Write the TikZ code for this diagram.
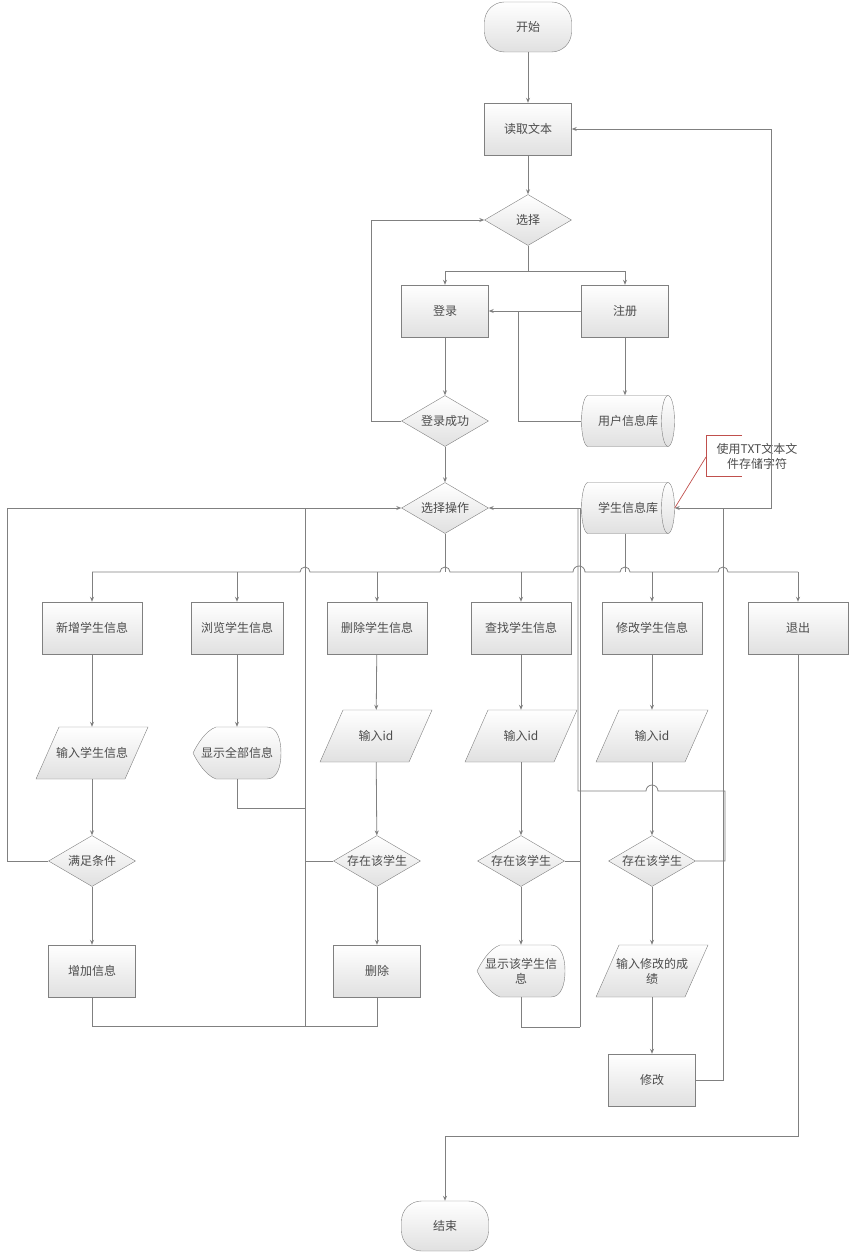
\documentclass[tikz,border=0pt]{standalone}
\usepackage{fontspec}
\setmainfont{Noto Sans CJK SC}
\usetikzlibrary{arrows.meta, shapes.geometric}

% display shape outline, centred at (#1,#2)
\newcommand{\dispbox}[2]{%
  \path[draw=black!50, top color=white, bottom color=black!12, shift={(#1,#2)}]
    (-21,-26) -- (30,-26) .. controls (40,-26) and (44,-14) .. (44,0)
    .. controls (44,14) and (40,26) .. (30,26) -- (-21,26)
    .. controls (-32,22) and (-40,8) .. (-44,0)
    .. controls (-40,-8) and (-32,-22) .. (-21,-26) -- cycle;}
% input/output parallelogram outline, centred at (#1,#2)
\newcommand{\iobox}[2]{%
  \path[draw=black!50, top color=white, bottom color=black!12, shift={(#1,#2)}]
    (-33,-26) -- (56,-26) -- (33,26) -- (-56,26) -- cycle;}
% lying data store outline, centred at (#1,#2)
\newcommand{\dbbox}[2]{%
  \path[draw=black!50, top color=white, bottom color=black!12, shift={(#1,#2)}]
    (-40,-25.5) -- (40,-25.5) arc[start angle=-90, end angle=90, x radius=6.5, y radius=25.5]
    -- (-40,25.5) arc[start angle=90, end angle=270, x radius=6.5, y radius=25.5] -- cycle;
  \draw[black!50, shift={(#1,#2)}]
    (40,-25.5) arc[start angle=-90, end angle=-270, x radius=6.5, y radius=25.5];}

\begin{document}
\begin{tikzpicture}[x=1pt, y=-1pt,
   txt/.style={text=black!70, font=\fontsize{12}{15}\selectfont, align=center},
   base/.style={txt, draw=black!50, top color=white, bottom color=black!12, inner sep=0pt},
   proc/.style={base, rectangle, minimum width=87pt, minimum height=52pt},
   wide/.style={proc, minimum width=100pt},
   term/.style={base, rectangle, rounded corners=20pt, minimum width=87pt, minimum height=50pt},
   decide/.style={base, diamond, aspect=1.74, minimum width=87pt, minimum height=51pt},
   disp/.style={txt, inner sep=0pt, minimum width=87pt, minimum height=52pt},
   store/.style={txt, inner sep=0pt, minimum width=93pt, minimum height=51pt},
   conn/.style={draw=black!50, line width=0.8pt},
   arr/.style={conn, -{Stealth[length=5pt, width=4pt]}},
   redline/.style={draw={rgb,255:red,192;green,80;blue,77}, line width=0.7pt},
  ]
  \useasboundingbox (0,0) rectangle (851,1252);

  % top part
  \node[term] (start) at (528,27) {开始};
  \node[proc] (read) at (528,129) {读取文本};
  \node[decide] (choose) at (528,220) {选择};
  \node[proc] (login) at (445,311) {登录};
  \node[proc] (reg) at (625,311) {注册};
  \node[decide] (loginok) at (445,421) {登录成功};
  \dbbox{628}{421}
  \node[store] (userdb) at (628,421) {用户信息库};
  \node[decide] (op) at (445,508) {选择操作};
  \dbbox{628}{508}
  \node[store] (studb) at (628,508) {学生信息库};
  \node[txt] (note) at (757,456) {使用TXT文本文\\件存储字符};

  % operations
  \node[wide] (add) at (92,628) {新增学生信息};
  \node[proc, minimum width=92pt] (browse) at (237,628) {浏览学生信息};
  \node[wide] (del) at (377,628) {删除学生信息};
  \node[wide] (find) at (521,628) {查找学生信息};
  \node[wide] (mod) at (652,628) {修改学生信息};
  \node[wide] (quit) at (798,628) {退出};

  \iobox{92}{753}
  \node[disp] (addin) at (92,753) {输入学生信息};
  \dispbox{237}{753}
  \node[disp] (showall) at (237,753) {显示全部信息};
  \iobox{376}{736}
  \node[disp] (delin) at (376,736) {输入id};
  \iobox{521}{736}
  \node[disp] (findin) at (521,736) {输入id};
  \iobox{652}{736}
  \node[disp] (modin) at (652,736) {输入id};

  \node[decide] (cond) at (92,861) {满足条件};
  \node[decide] (delex) at (377,861) {存在该学生};
  \node[decide] (findex) at (521,861) {存在该学生};
  \node[decide] (modex) at (652,861) {存在该学生};

  \node[proc] (addok) at (92,971) {增加信息};
  \node[proc] (delok) at (377,971) {删除};
  \dispbox{521}{971}
  \node[disp] (showone) at (521,971) {显示该学生信\\息};
  \iobox{652}{971}
  \node[disp] (modscore) at (652,971) {输入修改的成\\绩};
  \node[proc] (modok) at (652,1080) {修改};
  \node[term] (end) at (445,1226) {结束};

  % rails
  \coordinate (split) at (528,271);
  \coordinate (bus) at (445,572);
  \coordinate (leftrail) at (7,861);
  \coordinate (midrail) at (305,1026);
  \coordinate (findrail) at (580,1027);
  \coordinate (modrail) at (723,508);
  \coordinate (farrail) at (771,508);

  \draw[arr] (start) -- (read);
  \draw[arr] (read) -- (choose);
  \draw[conn] (choose) -- (split);
  \draw[arr] (split) -| (login);
  \draw[arr] (split) -| (reg);
  \draw[arr] (reg) -- (login);
  \draw[arr] (reg) -- (reg |- userdb.north);
  \draw[conn] (userdb.west) -| (518,311);
  \draw[arr] (login) -- (loginok);
  \draw[arr] (loginok.west) -- ++(-30,0) |- (choose.west);
  \draw[arr] (loginok) -- (op);

  % bus with hops
  \draw[conn] (op) -- (bus);
  \draw[conn] (reg |- studb.south) -- (reg |- bus);
  \draw[conn] (add |- bus) -- (300,572) arc[start angle=180, end angle=360, radius=5]
    -- (440,572) arc[start angle=180, end angle=360, radius=5]
    -- (573,572) arc[start angle=180, end angle=360, radius=6]
    -- (620,572) arc[start angle=180, end angle=360, radius=5]
    -- (718,572) arc[start angle=180, end angle=360, radius=5]
    -- (quit |- bus);
  \foreach \n in {add, browse, del, find, mod, quit}
    \draw[arr] (\n |- bus) -- (\n);

  % columns
  \draw[arr] (add) -- (addin);
  \draw[arr] (addin) -- (cond);
  \draw[arr] (cond) -- (addok);
  \draw[arr] (browse) -- (showall);
  \draw[arr] (del) -- (delin);
  \draw[arr] (delin) -- (delex);
  \draw[arr] (delex) -- (delok);
  \draw[arr] (find) -- (findin);
  \draw[arr] (findin) -- (findex);
  \draw[arr] (findex) -- (showone);
  \draw[arr] (mod) -- (modin);
  \draw[arr] (modin) -- (modex);
  \draw[arr] (modex) -- (modscore);
  \draw[arr] (modscore) -- (modok);

  % return paths
  \draw[arr] (cond.west) -- (leftrail) |- (op.west);
  \draw[conn] (addok.south) -- ++(0,29) -| (delok.south);
  \draw[conn] (midrail) -- (midrail |- op.west);
  \draw[conn] (showall.south) -- ++(0,29) -- ++(68,0);
  \draw[conn] (delex.west) -- (delex.west -| midrail);
  \draw[conn] (showone.south) -- (showone.south |- findrail) -- (findrail);
  \draw[arr] (findrail) |- (op.east);
  \draw[conn] (findex.east) -- (findex.east -| findrail);
  \draw[conn] (modex.east) -- (725,861) -- (725,791) -- (658,791)
    arc[start angle=0, end angle=-180, radius=6] -- (578,791) -- (578,508);
  \draw[arr] (modok.east) -| (modrail) -- (studb.east);
  \draw[arr] (modrail) -- (farrail) |- (read.east);
  \draw[arr] (quit.south) -- ++(0,482) -| (end);

  % note
  \draw[redline] (742,435) -- (706,435) -- (706,476) -- (742,476);
  \draw[redline] (706,457) -- (studb.east);
\end{tikzpicture}
\end{document}
